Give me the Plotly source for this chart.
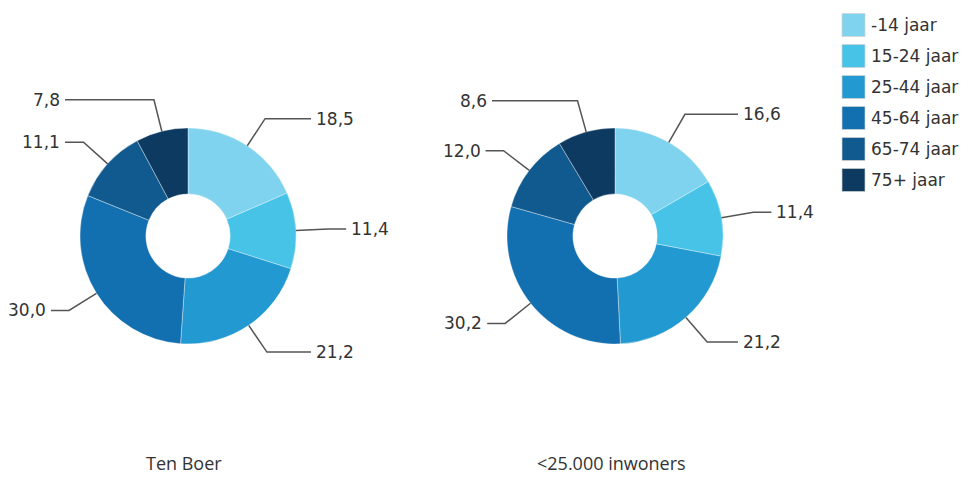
import math
import plotly.graph_objects as go

# ---- data ----
categories = ["-14 jaar", "15-24 jaar", "25-44 jaar", "45-64 jaar", "65-74 jaar", "75+ jaar"]
ten_boer = [18.5, 11.4, 21.2, 30.0, 11.1, 7.8]
klein_gemeenten = [16.6, 11.4, 21.2, 30.2, 12.0, 8.6]
titles = ["Ten Boer", "<25.000 inwoners"]
colors = ["#7fd3ee", "#47c3e8", "#2399d1", "#126fb0", "#105a8f", "#0d3a61"]

# ---- layout constants (pixels) ----
W, H = 967, 477
R = 108
HOLE = 0.39
centers = [(188, 236), (615, 236)]
TEXT = "#333333"
LINE = "#555555"


def px(x):
    return x / W


def py(y):
    return 1 - y / H


def fmt(v):
    return f"{v:.1f}".replace(".", ",")


fig = go.Figure()
shapes = []
annotations = []

for series, (cx, cy), title in zip([ten_boer, klein_gemeenten], centers, titles):
    fig.add_trace(go.Pie(
        labels=categories,
        values=series,
        hole=HOLE,
        sort=False,
        direction="clockwise",
        rotation=0,
        textinfo="none",
        hoverinfo="label+value",
        marker=dict(colors=colors, line=dict(color="rgba(255,255,255,0.6)", width=0.6)),
        domain=dict(x=[px(cx - R), px(cx + R)], y=[py(cy + R), py(cy - R)]),
        showlegend=False,
    ))
    total = sum(series)
    cum = 0.0
    for v in series:
        mid = (cum + v / 2) / total * 2 * math.pi
        cum += v
        ux, uy = math.sin(mid), -math.cos(mid)
        x0, y0 = cx + R * ux, cy + R * uy
        x1, y1 = cx + 1.3 * R * ux, cy + 1.3 * R * uy
        right = ux >= 0
        if right:
            x2 = max(x1 + 18, cx + R + 15)
        else:
            x2 = min(x1 - 18, cx - R - 15)
        shapes.append(dict(
            type="path", xref="paper", yref="paper",
            path=f"M {px(x0)},{py(y0)} L {px(x1)},{py(y1)} L {px(x2)},{py(y1)}",
            line=dict(color=LINE, width=1.5),
        ))
        annotations.append(dict(
            x=px(x2 + (3 if right else -3)), y=py(y1), xref="paper", yref="paper",
            text=fmt(v), showarrow=False,
            xanchor="left" if right else "right", yanchor="middle",
            font=dict(family="DejaVu Sans", size=17, color=TEXT),
        ))
    annotations.append(dict(
        x=px(cx - 4), y=py(476), xref="paper", yref="paper", text=title,
        showarrow=False, xanchor="center", yanchor="bottom", borderpad=0,
        font=dict(family="Open Sans", size=18, color=TEXT),
    ))

# ---- custom legend ----
LX, LY0, LS, SW = 842, 25, 31, 23
for i, (cat, col) in enumerate(zip(categories, colors)):
    yc = LY0 + i * LS
    shapes.append(dict(
        type="rect", xref="paper", yref="paper",
        x0=px(LX), x1=px(LX + SW), y0=py(yc + SW / 2), y1=py(yc - SW / 2),
        fillcolor=col, line=dict(color="rgba(210,210,210,0.7)", width=1),
    ))
    annotations.append(dict(
        x=px(LX + SW + 4), y=py(yc), xref="paper", yref="paper", text=cat,
        showarrow=False, xanchor="left", yanchor="middle",
        font=dict(family="DejaVu Sans", size=17, color=TEXT),
    ))

fig.update_layout(
    width=W, height=H,
    margin=dict(l=0, r=0, t=0, b=0),
    paper_bgcolor="white", plot_bgcolor="white",
    shapes=shapes, annotations=annotations,
    showlegend=False,
)

fig.write_html("out.html")
